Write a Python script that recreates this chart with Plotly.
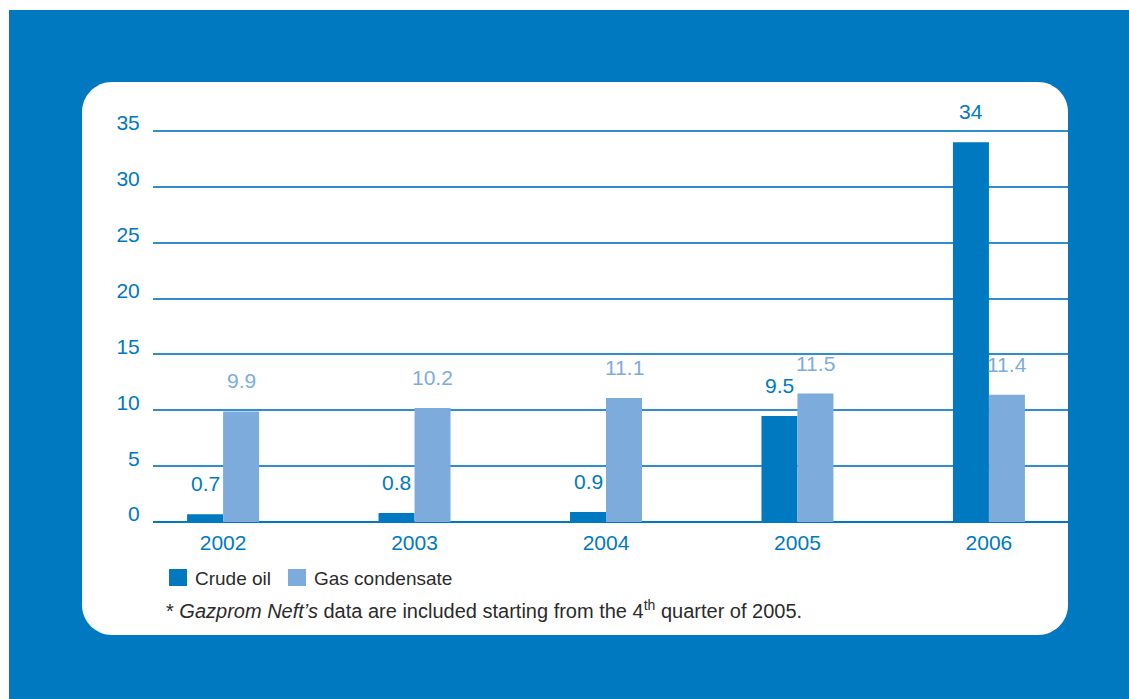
import plotly.graph_objects as go

# Production by year (million tonnes)
years = ["2002", "2003", "2004", "2005", "2006"]
crude_oil = [0.7, 0.8, 0.9, 9.5, 34]
gas_condensate = [9.9, 10.2, 11.1, 11.5, 11.4]
y_ticks = [0, 5, 10, 15, 20, 25, 30, 35]

series_names = ["Crude oil", "Gas condensate"]
footnote = ("* <i>Gazprom Neft\u2019s</i> data are included starting from the "
            "4<sup>th</sup> quarter of 2005.")

BLUE = "#0079C1"
LIGHT = "#7DACDC"
TEXT = "#2b2b2b"
FONT = "Liberation Sans, Arial, Helvetica, sans-serif"

W, H = 1129, 699
L, R, T, B = 153, 61, 100, 177
PW, PH = W - L - R, H - T - B


def px(x):
    return (x - L) / PW


def py(y):
    return (H - B - y) / PH


xs = list(range(len(years)))
bw = 0.188

fig = go.Figure()
fig.add_trace(go.Bar(x=xs, y=crude_oil, name=series_names[0], marker_color=BLUE,
                     width=bw, offset=-bw, marker_line_width=0, showlegend=False))
fig.add_trace(go.Bar(x=xs, y=gas_condensate, name=series_names[1], marker_color=LIGHT,
                     width=bw, offset=0, marker_line_width=0, showlegend=False))

annotations = []
for i, v in enumerate(crude_oil):
    annotations.append(dict(x=i - bw / 2, y=v, xref="x", yref="y", text=f"{v:g}",
                            showarrow=False, yanchor="bottom", yshift=17,
                            font=dict(family=FONT, size=21, color=BLUE)))
for i, v in enumerate(gas_condensate):
    annotations.append(dict(x=i + bw / 2, y=v, xref="x", yref="y", text=f"{v:g}",
                            showarrow=False, yanchor="bottom", yshift=17,
                            font=dict(family=FONT, size=21, color=LIGHT)))

# Legend drawn by hand: squares plus labels
legend_items = [(169, series_names[0], BLUE), (288, series_names[1], LIGHT)]
shapes = []
for x0, name, col in legend_items:
    shapes.append(dict(type="rect", xref="paper", yref="paper", layer="above",
                       x0=px(x0), x1=px(x0 + 18), y0=py(586), y1=py(569),
                       fillcolor=col, line_width=0))
    annotations.append(dict(x=px(x0 + 24), y=py(578), xref="paper", yref="paper",
                            text=name, showarrow=False, xanchor="left", yanchor="middle",
                            font=dict(family=FONT, size=19, color=TEXT)))

annotations.append(dict(x=px(164), y=py(609), xref="paper", yref="paper",
                        text=footnote, showarrow=False, xanchor="left", yanchor="middle",
                        font=dict(family=FONT, size=20, color=TEXT)))

# Blue panel behind everything
shapes.insert(0, dict(type="rect", xref="paper", yref="paper", layer="below",
                      x0=px(9), x1=px(W + 5), y0=py(H + 5), y1=py(10),
                      fillcolor=BLUE, line_width=0))

# White rounded card
x0, x1, y0, y1, r = 82, 1068, 82, 635, 30
k = 0.45  # cubic handle factor for rounded corners
pts = [
    f"M{px(x0 + r)},{py(y0)}",
    f"L{px(x1 - r)},{py(y0)}",
    f"C{px(x1 - r * k)},{py(y0)} {px(x1)},{py(y0 + r * k)} {px(x1)},{py(y0 + r)}",
    f"L{px(x1)},{py(y1 - r)}",
    f"C{px(x1)},{py(y1 - r * k)} {px(x1 - r * k)},{py(y1)} {px(x1 - r)},{py(y1)}",
    f"L{px(x0 + r)},{py(y1)}",
    f"C{px(x0 + r * k)},{py(y1)} {px(x0)},{py(y1 - r * k)} {px(x0)},{py(y1 - r)}",
    f"L{px(x0)},{py(y0 + r)}",
    f"C{px(x0)},{py(y0 + r * k)} {px(x0 + r * k)},{py(y0)} {px(x0 + r)},{py(y0)}",
    "Z",
]
shapes.insert(1, dict(type="path", xref="paper", yref="paper", layer="below",
                      path=" ".join(pts), fillcolor="white", line_width=0))

fig.update_layout(
    width=W, height=H,
    margin=dict(l=L, r=R, t=T, b=B, pad=0),
    paper_bgcolor="white",
    plot_bgcolor="rgba(0,0,0,0)",
    barmode="overlay",
    font=dict(family=FONT, size=21, color=BLUE),
    shapes=shapes,
    annotations=annotations,
    xaxis=dict(range=[-0.366, 4.413], tickvals=xs, ticktext=years,
               showgrid=False, zeroline=False, showline=False,
               ticks="outside", ticklen=2, tickcolor="rgba(0,0,0,0)",
               tickfont=dict(family=FONT, size=21, color=BLUE), fixedrange=True),
    yaxis=dict(range=[0, (H - B - T) / 11.17], tickvals=y_ticks,
               showgrid=True, gridcolor="#2f8fcd", gridwidth=1.5,
               zeroline=True, zerolinecolor=BLUE, zerolinewidth=1.5,
               showline=False, ticks="outside", ticklen=8,
               tickcolor="rgba(0,0,0,0)", ticklabelshift=-8,
               tickfont=dict(family=FONT, size=21, color=BLUE), fixedrange=True),
)

fig.write_html("out.html", config={"displayModeBar": False})
